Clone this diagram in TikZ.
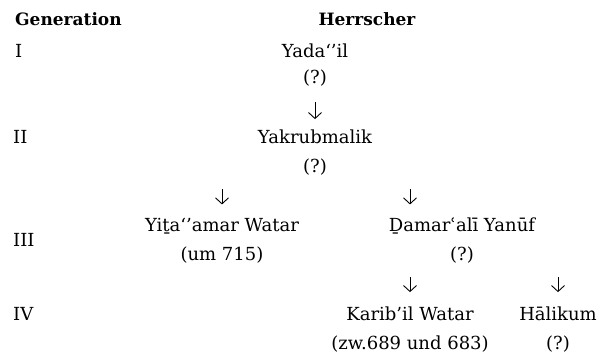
\documentclass[tikz,border=0pt]{standalone}
\usepackage{fontspec}
\setmainfont{DejaVu Serif}
\usetikzlibrary{arrows.meta}

\begin{document}
\begin{tikzpicture}[x=1pt, y=-1pt,
  ruler/.style={anchor=base, inner sep=0pt, font=\fontsize{18}{22}\selectfont},
  head/.style={ruler, font=\fontsize{17}{21}\selectfont\bfseries},
  gen/.style={ruler, anchor=base west},
  arr/.style={-{Straight Barb[length=6pt, width=13pt]}, line width=0.9pt, shorten <=13pt, shorten >=14pt},
]
\useasboundingbox (0,0) rectangle (604,352);
% header
\node[head, anchor=base west] (hgen) at (15,26) {Generation};
\node[head] (hrul) at (367,26) {Herrscher};
% generation labels
\node[gen] (g1) at (15,58) {I};
\node[gen] (g2) at (13,144) {II};
\node[gen] (g3) at (13,247) {III};
\node[gen] (g4) at (13,320) {IV};
% rulers
\node[ruler] (yad) at (315,58) {Yada‘’il};
\node[ruler] (q1) at (315,84) {(?)};
\node[ruler] (yak) at (315,144) {Yakrubmalik};
\node[ruler] (q2) at (315,173) {(?)};
\node[ruler] (yit) at (222,232) {Yiṯa‘’amar Watar};
\node[ruler] (q3a) at (222,261) {(um 715)};
\node[ruler] (dam) at (462,232) {Ḏamarʿalī Yanūf};
\node[ruler] (q3) at (462,261) {(?)};
\node[ruler] (kar) at (410,320) {Karib’il Watar};
\node[ruler] (q4a) at (410,349) {(zw.689 und 683)};
\node[ruler] (hal) at (558,320) {Hālikum};
\node[ruler] (q4) at (558,349) {(?)};
% descent
\draw[arr, shorten <=15pt, shorten >=11pt] (q1.south) -- (yak.north);
\draw[arr] (q2.south -| yit) -- (yit.north);
\draw[arr] (q2.south -| kar) -- (yit.north -| kar);
\draw[arr] (q3.south -| kar) -- (kar.north);
\draw[arr] (q3.south -| hal) -- (kar.north -| hal);
\end{tikzpicture}
\end{document}
